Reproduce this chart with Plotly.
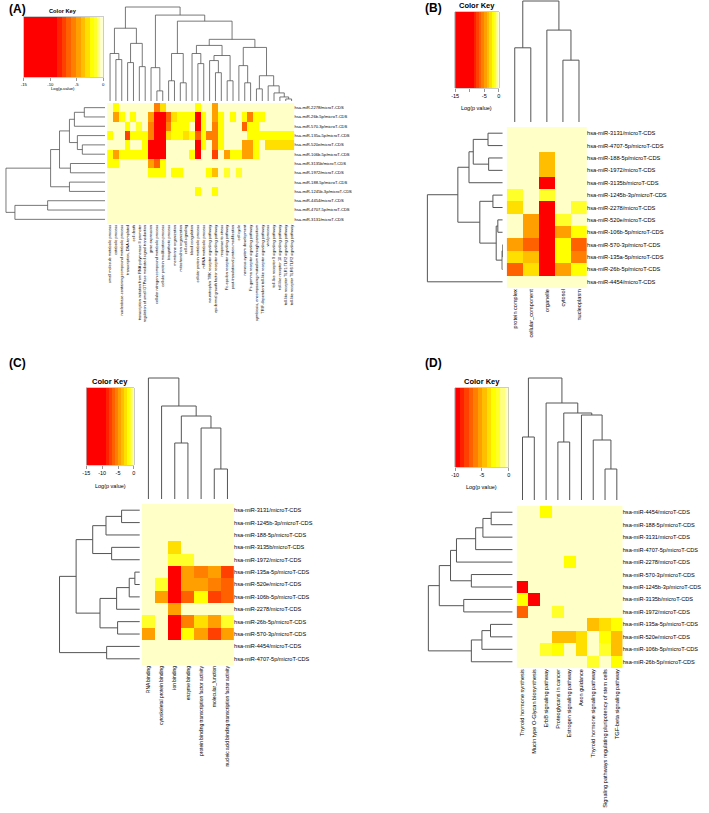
import numpy as np
import plotly.graph_objects as go

W, H = 709, 813
FONT = "Liberation Sans, Arial, Helvetica, sans-serif"

# ---------------- colour key (heat colours, log p-value bins) ----------------
HEAT = ["#FF0000", "#FF2000", "#FF4000", "#FF6000", "#FF8000", "#FF9F00",
        "#FFBF00", "#FFDF00", "#FFFF00", "#FFFF2A", "#FFFF80", "#FFFFC8"]
BREAKS_15 = [-15, -8.7, -7.8, -6.9, -6.0, -5.1, -4.2, -3.3, -2.4, -1.6, -1.0, -0.5, 0]
BREAKS_10 = [-10.0, -9.17, -8.33, -7.5, -6.67, -5.83, -5.0, -4.17, -3.33, -2.5, -1.67, -0.83, 0.0]

# ---------------- Panel A : biological process ----------------
rows_A = ["hsa-miR-2278/microT-CDS", "hsa-miR-26b-5p/microT-CDS", "hsa-miR-570-3p/microT-CDS",
          "hsa-miR-135a-5p/microT-CDS", "hsa-miR-520e/microT-CDS", "hsa-miR-106b-5p/microT-CDS",
          "hsa-miR-3135b/microT-CDS", "hsa-miR-1972/microT-CDS", "hsa-miR-188-5p/microT-CDS",
          "hsa-miR-1245b-3p/microT-CDS", "hsa-miR-4454/microT-CDS", "hsa-miR-4707-5p/microT-CDS",
          "hsa-miR-3131/microT-CDS"]
cols_A = ["small molecule metabolic process", "catabolic process",
          "nucleobase-containing compound metabolic process", "transcription, DNA-templated",
          "cell death", "transcription initiation from RNA polymerase II promoter",
          "regulation of small GTPase mediated signal transduction", "gene expression",
          "cellular nitrogen compound metabolic process", "cellular protein modification process",
          "biosynthetic process", "membrane organization", "mitochondrion organization",
          "cell-cell signaling", "blood coagulation", "cellular protein metabolic process",
          "mRNA metabolic process", "neurotrophin TRK receptor signaling pathway",
          "epidermal growth factor receptor signaling pathway", "response to stress",
          "Fc-epsilon receptor signaling pathway", "post-translational protein modification",
          "cell cycle", "nervous system development", "Fc-gamma receptor signaling pathway",
          "symbiosis, encompassing mutualism through parasitism",
          "TRIF-dependent toll-like receptor signaling pathway", "viral process",
          "toll-like receptor 9 signaling pathway", "toll-like receptor 10 signaling pathway",
          "toll-like receptor TLR1:TLR2 signaling pathway",
          "toll-like receptor TLR6:TLR2 signaling pathway"]
vals_A = [
    [0, -2.0, 0, 0, 0, 0, 0, 0, -5.5, -2.8, 0, 0, 0, 0, 0, -2.0,
     0, 0, -4.6, 0, 0, 0, 0, 0, 0, 0, 0, 0, 0, 0, 0, 0],
    [0, -4.6, -2.0, 0, -2.0, 0, 0, -4.6, -12, -12, -6.4, -2.8, -2.0, -2.0, -2.0, -12,
     -2.0, 0, -4.6, -2.0, 0, -2.0, 0, -2.0, -5.5, -2.0, -2.0, 0, 0, 0, 0, 0],
    [0, 0, 0, -2.0, 0, -1.3, 0, -5.5, -12, -12, -5.5, -2.0, -2.0, -2.0, 0, -12,
     -2.0, 0, -5.5, -2.0, 0, 0, 0, -6.4, -2.0, -2.0, 0, 0, 0, 0, 0, 0],
    [-2.0, 0, 0, -7.3, -2.0, -2.0, -2.0, -5.5, -12, -12, -2.8, -2.0, -2.0, -2.8, -2.0, -6.4,
     -2.0, -5.5, -5.5, -2.0, 0, 0, 0, 0, -2.0, -2.0, -2.0, -2.0, -2.0, -2.0, -2.0, -2.0],
    [0, 0, 0, -2.0, 0, 0, -2.0, -12, -12, -12, 0, 0, 0, 0, 0, -12,
     -2.0, 0, -5.5, -2.0, 0, 0, 0, -4.6, -4.6, -2.0, 0, -2.8, -2.8, -2.8, -2.8, -2.8],
    [-2.0, -4.6, -2.0, -2.0, -2.0, -2.0, -2.0, -12, -12, -12, 0, 0, 0, 0, -2.0, -12,
     0, 0, -7.3, 0, -4.6, -2.0, -2.0, -4.6, -4.6, -2.0, 0, 0, 0, 0, 0, 0],
    [-2.0, -2.0, 0, 0, 0, 0, 0, -4.6, -6.4, -2.0, 0, 0, 0, 0, 0, 0,
     0, 0, 0, 0, 0, 0, 0, 0, 0, 0, 0, 0, 0, 0, 0, 0],
    [0, 0, 0, 0, 0, 0, 0, -2.0, -2.0, -2.0, 0, -2.0, -2.0, 0, 0, 0,
     0, -2.0, -3.7, 0, -1.3, 0, -1.3, 0, 0, 0, 0, 0, 0, 0, 0, 0],
    [0] * 32,
    [0, 0, 0, 0, 0, 0, 0, 0, 0, 0, 0, 0, 0, 0, 0, -2.0,
     0, 0, -2.0, 0, 0, 0, 0, 0, 0, 0, 0, 0, 0, 0, 0, 0],
    [0] * 32,
    [0] * 32,
    [0] * 32,
]
# dendrograms: (merge height, left, right); ints are leaf positions
ctree_A = (93,
           (72, (47, 0, (41, 1, 2)), (57, (38, 3, 4), (34, 5, 6))),
           (85, (33, 7, (10, 8, 9)),
            (79, (47, (20, 10, 11), (18, 12, 13)),
             (61, (55, (47, 14, (37, 15, 16)), (45, (40, 17, (28, 18, 19)), (20, 20, 21))),
              (53, (35, 22, (18, 23, 24)),
               (25, (12, 25, 26), (15, 27, (8, 28, (4, 29, (2, 30, 31))))))))))
rtree_A = (100,
           (55, (46, (36, (31, (21, 0, 1), 2), (28, 3, (23, 4, 5))), (35, 6, 7)), (36, 8, 9)),
           (91, (58, 10, 11), 12))

# ---------------- Panel B : cellular component ----------------
rows_B = ["hsa-miR-3131/microT-CDS", "hsa-miR-4707-5p/microT-CDS", "hsa-miR-188-5p/microT-CDS",
          "hsa-miR-1972/microT-CDS", "hsa-miR-3135b/microT-CDS", "hsa-miR-1245b-3p/microT-CDS",
          "hsa-miR-2278/microT-CDS", "hsa-miR-520e/microT-CDS", "hsa-miR-106b-5p/microT-CDS",
          "hsa-miR-570-3p/microT-CDS", "hsa-miR-135a-5p/microT-CDS", "hsa-miR-26b-5p/microT-CDS",
          "hsa-miR-4454/microT-CDS"]
cols_B = ["protein complex", "cellular_component", "organelle", "cytosol", "nucleoplasm"]
vals_B = [
    [0, 0, 0, 0, 0],
    [0, 0, 0, 0, 0],
    [0, 0, -3.7, 0, 0],
    [0, 0, -3.7, 0, 0],
    [0, 0, -12, 0, 0],
    [-1.3, 0, -1.3, 0, 0],
    [-2.8, 0, -12, 0, -1.3],
    [0, -4.6, -12, -1.3, 0],
    [0, -4.6, -12, -4.6, -2.0],
    [-4.6, -6.4, -12, -2.0, -6.4],
    [-2.8, -3.7, -12, -2.0, -5.5],
    [-6.4, -2.8, -12, -4.6, -2.0],
    [0, 0, 0, 0, 0],
]
ctree_B = (362, (222, 0, 1), (275, 2, (185, 3, 4)))
rtree_B = (230,
           (137, (103, (90, (45, 0, 1), (43, 2, 3)), 4),
            (70, (30, 5, 6), (20, (15, 7, 8), (2, (0.5, 9, 10), 11)))),
           12)

# ---------------- Panel C : molecular function ----------------
rows_C = ["hsa-miR-3131/microT-CDS", "hsa-miR-1245b-3p/microT-CDS", "hsa-miR-188-5p/microT-CDS",
          "hsa-miR-3135b/microT-CDS", "hsa-miR-1972/microT-CDS", "hsa-miR-135a-5p/microT-CDS",
          "hsa-miR-520e/microT-CDS", "hsa-miR-106b-5p/microT-CDS", "hsa-miR-2278/microT-CDS",
          "hsa-miR-26b-5p/microT-CDS", "hsa-miR-570-3p/microT-CDS", "hsa-miR-4454/microT-CDS",
          "hsa-miR-4707-5p/microT-CDS"]
cols_C = ["RNA binding", "cytoskeletal protein binding", "ion binding", "enzyme binding",
          "protein binding transcription factor activity", "molecular_function",
          "nucleic acid binding transcription factor activity"]
vals_C = [
    [0, 0, 0, 0, 0, 0, 0],
    [0, 0, 0, 0, 0, 0, 0],
    [0, 0, 0, 0, 0, 0, 0],
    [0, 0, -2.8, 0, 0, 0, 0],
    [0, 0, -1.3, -1.3, 0, 0, 0],
    [0, 0, -12, -4.6, -5.5, -4.6, -7.3],
    [0, -1.3, -12, -4.6, -4.6, -5.5, -6.4],
    [0, -4.6, -12, -6.4, -2.0, -7.3, -6.4],
    [0, 0, -4.6, 0, 0, 0, 0],
    [-1.3, 0, -12, -5.5, -2.8, -4.6, -1.3],
    [-4.6, 0, -12, -2.0, -4.6, -7.3, -4.6],
    [0, 0, 0, 0, 0, 0, 0],
    [0, 0, 0, 0, 0, 0, 0],
]
ctree_C = (121, 0, (93, 1, (83, (56, 2, 3), (71, 4, (30, 5, 6)))))
rtree_C = (242,
           (192, (142, (102, (55, 0, 1), 2), (85, 3, 4)),
            (120, (70, (32, (15, 5, 6), 7), 8), (67, 9, 10))),
           (100, 11, 12))

# ---------------- Panel D : KEGG pathways ----------------
rows_D = ["hsa-miR-4454/microT-CDS", "hsa-miR-188-5p/microT-CDS", "hsa-miR-3131/microT-CDS",
          "hsa-miR-4707-5p/microT-CDS", "hsa-miR-2278/microT-CDS", "hsa-miR-570-3p/microT-CDS",
          "hsa-miR-1245b-3p/microT-CDS", "hsa-miR-3135b/microT-CDS", "hsa-miR-1972/microT-CDS",
          "hsa-miR-135a-5p/microT-CDS", "hsa-miR-520e/microT-CDS", "hsa-miR-106b-5p/microT-CDS",
          "hsa-miR-26b-5p/microT-CDS"]
cols_D = ["Thyroid hormone synthesis", "Mucin type O-Glycan biosynthesis", "ErbB signaling pathway",
          "Proteoglycans in cancer", "Estrogen signaling pathway", "Axon guidance",
          "Thyroid hormone signaling pathway",
          "Signaling pathways regulating pluripotency of stem cells", "TGF-beta signaling pathway"]
vals_D = [
    [0, 0, -2.9, 0, 0, 0, 0, 0, 0],
    [0, 0, 0, 0, 0, 0, 0, 0, 0],
    [0, 0, 0, 0, 0, 0, 0, 0, 0],
    [0, 0, 0, 0, 0, 0, 0, 0, 0],
    [0, 0, 0, 0, -2.9, 0, 0, 0, 0],
    [0, 0, 0, 0, 0, 0, 0, 0, 0],
    [-9.6, 0, 0, 0, 0, 0, 0, 0, 0],
    [-2.9, -9.6, 0, 0, 0, 0, 0, 0, 0],
    [-7.1, 0, 0, -2.1, 0, 0, 0, 0, 0],
    [0, 0, 0, 0, 0, 0, -4.6, -3.7, -2.9],
    [0, 0, 0, -4.6, -4.6, -3.7, 0, -2.9, -4.6],
    [0, 0, -2.1, -2.9, 0, -3.7, 0, -2.1, -4.6],
    [0, 0, 0, 0, 0, 0, -2.1, 0, -2.9],
]
ctree_D = (122, (63, 0, 1), (97, 2, (87, (58, 3, 4), (85, 5, (60, 6, (31, 7, 8))))))
rtree_D = (255,
           (222, (188, (170, (112, (90, (65, 0, 1), 2), 3), 4), (125, 5, 6)), (148, 7, 8)),
           (125, (93, (67, 9, 10), 11), 12))

# ---------------- layout (pixel boxes) ----------------
PANELS = [
    dict(tag="(A)", tagxy=(3, 9), rows=rows_A, cols=cols_A, vals=vals_A, ctree=ctree_A, rtree=rtree_A,
         breaks=BREAKS_15, hm=(104, 293, 103, 224), cd=(7, 101), rd=(2, 102),
         key=(20, 100, 17, 77), kt=[-15, -10, -5, 0], ktt=["-15", "-10", "-5", "0"],
         ktitle_y=11, ktitle_fs=5.7, klab="Log(p-value)", klab_y=89, kfs=4.2,
         rfs=4.1, cfs=3.9, lw=0.8),
    dict(tag="(B)", tagxy=(423, 8), rows=rows_B, cols=cols_B, vals=vals_B, ctree=ctree_B, rtree=rtree_B,
         breaks=BREAKS_15, hm=(507, 588, 127, 288), cd=(1, 122), rd=(427, 503),
         key=(455, 499, 12, 88), kt=[-15, -10, -5, 0], ktt=["-15", "", "-5", "0"],
         ktitle_y=5, ktitle_fs=7.5, klab="Log(p value)", klab_y=108, kfs=5.5,
         rfs=5.7, cfs=5.6, lw=1),
    dict(tag="(C)", tagxy=(3, 363), rows=rows_C, cols=cols_C, vals=vals_C, ctree=ctree_C, rtree=rtree_C,
         breaks=BREAKS_15, hm=(139, 232, 504, 665), cd=(378, 499), rd=(56, 137),
         key=(83, 131, 388, 465), kt=[-15, -10, -5, 0], ktt=["-15", "-10", "-5", "0"],
         ktitle_y=381, ktitle_fs=7.5, klab="Log(p value)", klab_y=486, kfs=5.5,
         rfs=5.6, cfs=4.9, lw=1),
    dict(tag="(D)", tagxy=(423, 363), rows=rows_D, cols=cols_D, vals=vals_D, ctree=ctree_D, rtree=rtree_D,
         breaks=BREAKS_10, hm=(517, 624, 506, 668), cd=(378, 500), rd=(428, 513),
         key=(455, 509, 388, 467), kt=[-10, -5, 0], ktt=["-10", "-5", "0"],
         ktitle_y=381, ktitle_fs=7.5, klab="Log(p value)", klab_y=487, kfs=5.5,
         rfs=5.6, cfs=5.6, lw=1),
]

fig = go.Figure()
layout = dict(width=W, height=H, margin=dict(l=0, r=0, t=0, b=0),
              paper_bgcolor="white", plot_bgcolor="rgba(0,0,0,0)", showlegend=False)
annotations = []
counter = [0]


def new_axes(xpx, ypx, xopts, yopts):
    counter[0] += 1
    i = counter[0]
    s = "" if i == 1 else str(i)
    base = dict(showgrid=False, zeroline=False, fixedrange=True)
    xa = dict(base, domain=[max(0, xpx[0] / W), min(1, xpx[1] / W)], anchor="y" + s)
    ya = dict(base, domain=[max(0, 1 - ypx[1] / H), min(1, 1 - ypx[0] / H)], anchor="x" + s)
    xa.update(xopts)
    ya.update(yopts)
    layout["xaxis" + s] = xa
    layout["yaxis" + s] = ya
    return "x" + s, "y" + s


def stepped(breaks, colors):
    lo, hi = breaks[0], breaks[-1]
    cs = []
    for i, c in enumerate(colors):
        a = (breaks[i] - lo) / (hi - lo)
        b = (breaks[i + 1] - lo) / (hi - lo)
        cs.append([min(max(a, 0), 1), c])
        cs.append([min(max(b, 0), 1), c])
    cs[0][0] = 0.0
    cs[-1][0] = 1.0
    return cs


def dendro(tree):
    segs = []

    def rec(t):
        if not isinstance(t, tuple):
            return float(t), 0.0
        h, l, r = t
        pl, hl = rec(l)
        pr, hr = rec(r)
        segs.append((pl, hl, pl, h))
        segs.append((pr, hr, pr, h))
        segs.append((pl, h, pr, h))
        return (pl + pr) / 2.0, h

    rec(tree)
    return segs


def seg_lines(segs, swap=False):
    xs, ys = [], []
    for p0, h0, p1, h1 in segs:
        if swap:
            xs += [h0, h1, None]
            ys += [p0, p1, None]
        else:
            xs += [p0, p1, None]
            ys += [h0, h1, None]
    return xs, ys


def ann(x, y, text, size, bold=False, xanchor="center"):
    annotations.append(dict(x=x / W, y=1 - y / H, xref="paper", yref="paper",
                            text=("<b>%s</b>" % text) if bold else text,
                            showarrow=False, xanchor=xanchor, yanchor="middle",
                            font=dict(family=FONT, size=size, color="black")))


DCOL = "#555555"

for P in PANELS:
    n, m = len(P["cols"]), len(P["rows"])
    br = P["breaks"]
    cs = stepped(br, HEAT)
    zmin, zmax = br[0], br[-1]
    hx0, hx1, hy0, hy1 = P["hm"]

    # heatmap
    xr, yr = new_axes((hx0, hx1), (hy0, hy1),
                      dict(range=[-0.5, n - 0.5], tickmode="array", tickvals=list(range(n)),
                           ticktext=P["cols"], tickangle=-90, ticks="", ticklen=0, showline=False,
                           ticklabelstandoff=-1,
                           tickfont=dict(family=FONT, size=P["cfs"], color="black")),
                      dict(range=[m - 0.5, -0.5], side="right", tickmode="array",
                           tickvals=list(range(m)), ticktext=P["rows"], ticks="", ticklen=0,
                           showline=False, ticklabelstandoff=-1,
                           tickfont=dict(family=FONT, size=P["rfs"], color="black")))
    fig.add_trace(go.Heatmap(z=P["vals"], x=list(range(n)), y=list(range(m)), colorscale=cs,
                             zmin=zmin, zmax=zmax, showscale=False, xaxis=xr, yaxis=yr,
                             hoverinfo="skip", xgap=0, ygap=0))

    # column dendrogram
    top, bot = P["cd"]
    hmax = P["ctree"][0]
    pad = min(2, top)
    upp = hmax / float(bot - top)
    xr, yr = new_axes((hx0, hx1), (top - pad, bot),
                      dict(range=[-0.5, n - 0.5], visible=False),
                      dict(range=[0, hmax + pad * upp], visible=False))
    xs, ys = seg_lines(dendro(P["ctree"]))
    fig.add_trace(go.Scatter(x=xs, y=ys, mode="lines", line=dict(color=DCOL, width=P["lw"]),
                             xaxis=xr, yaxis=yr, hoverinfo="skip"))

    # row dendrogram
    left, right = P["rd"]
    hmax = P["rtree"][0]
    pad = min(2, left)
    upp = hmax / float(right - left)
    xr, yr = new_axes((left - pad, right), (hy0, hy1),
                      dict(range=[hmax + pad * upp, 0], visible=False),
                      dict(range=[m - 0.5, -0.5], visible=False))
    xs, ys = seg_lines(dendro(P["rtree"]), swap=True)
    fig.add_trace(go.Scatter(x=xs, y=ys, mode="lines", line=dict(color=DCOL, width=P["lw"]),
                             xaxis=xr, yaxis=yr, hoverinfo="skip"))

    # colour key
    kx0, kx1, ky0, ky1 = P["key"]
    kvals = np.linspace(zmin, zmax, 601)
    xr, yr = new_axes((kx0, kx1), (ky0, ky1),
                      dict(range=[zmin, zmax], tickmode="array", tickvals=P["kt"], ticktext=P["ktt"],
                           ticks="outside", ticklen=3, tickwidth=0.6, tickcolor="#555",
                           showline=True, linecolor="#999", linewidth=0.5, mirror=True,
                           tickfont=dict(family=FONT, size=P["kfs"], color="black")),
                      dict(range=[-0.5, 0.5], showticklabels=False, ticks="",
                           showline=True, linecolor="#999", linewidth=0.5, mirror=True))
    fig.add_trace(go.Heatmap(z=[list(kvals)], x=list(kvals), y=[0], colorscale=cs, zmin=zmin, zmax=zmax,
                             showscale=False, xaxis=xr, yaxis=yr, hoverinfo="skip"))

    kc = (kx0 + kx1) / 2.0
    ann(kc, P["ktitle_y"], "Color Key", P["ktitle_fs"], bold=True)
    ann(kc, P["klab_y"], P["klab"], P["kfs"])
    ann(P["tagxy"][0], P["tagxy"][1], P["tag"], 12, bold=True, xanchor="left")

layout["annotations"] = annotations
fig.update_layout(**layout)
fig.write_html("out.html", config={"displayModeBar": False, "staticPlot": True},
               post_script="document.body.style.margin='0';document.body.style.overflow='hidden';")
